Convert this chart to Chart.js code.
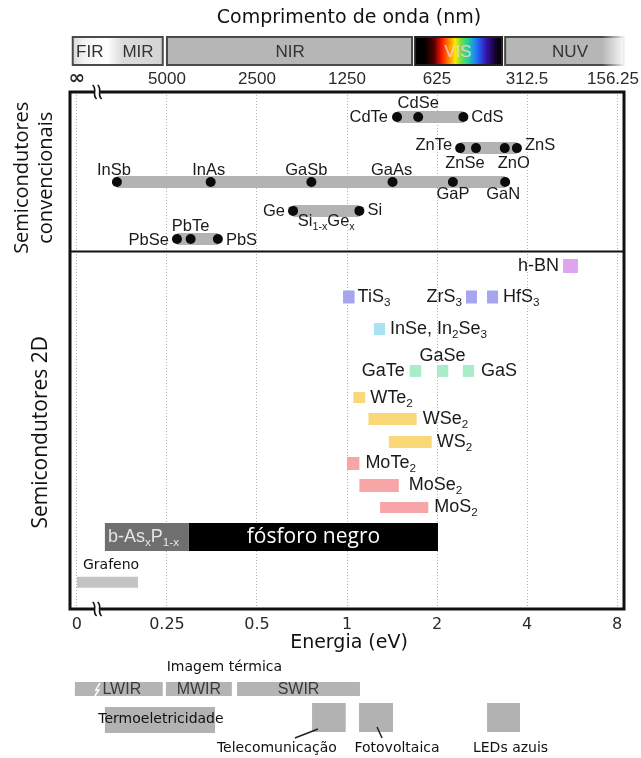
<!DOCTYPE html>
<html><head><meta charset="utf-8">
<script src="https://cdn.jsdelivr.net/npm/chart.js@4/dist/chart.umd.min.js"></script>
<style>html,body{margin:0;padding:0;background:#fff}#wrap{width:641px;height:758px}</style>
</head><body><div id="wrap"><canvas id="c" width="641" height="758"></canvas></div>
<script>
// ---------------- DATA ----------------
// Energy axis (log2-like spacing; "0" sits at the axis break position)
const energyTicks = [0.125, 0.25, 0.5, 1, 2, 4, 8];
const energyTickLabels = ['0', '0.25', '0.5', '1', '2', '4', '8'];
const wavelengthTickLabels = ['\u221E', '5000', '2500', '1250', '625', '312.5', '156.25'];
const ZERO_AT = 0.125;          // energy axis value where "0 eV" is drawn
const X_MIN = 1 / 8.44, X_MAX = 8.44;

// Conventional semiconductors (band gap, eV)
const convNames = ['CdTe','CdSe','CdS','ZnTe','ZnSe','ZnO','ZnS','InSb','InAs','GaSb','GaAs','GaP','GaN','Ge','Si','PbSe','PbTe','PbS'];
const convGaps  = [1.47, 1.73, 2.45, 2.39, 2.70, 3.37, 3.70, 0.17, 0.35, 0.76, 1.42, 2.26, 3.38, 0.66, 1.10, 0.27, 0.30, 0.37];
const convRow   = [0,0,0, 1,1,1,1, 2,2,2,2,2,2, 3,3, 4,4,4];
const convRowY  = [0.97, 2.17, 3.48, 4.60, 5.69];
const alloyLabel = 'Si_{1-x}Ge_x';   // label of the Ge–Si row bar
const dividerY = 6.17;

// 2D semiconductors (band gap ranges, eV)
const tdNames = ['h-BN','TiS_3','ZrS_3','HfS_3','InSe, In_2Se_3','GaTe','GaSe','GaS','WTe_2','WSe_2','WS_2','MoTe_2','MoSe_2','MoS_2','b-As_xP_{1-x}','fósforo negro','Grafeno'];
const tdMin = [5.28, 0.97, 2.50, 2.94, 1.23, 1.62, 2.00, 2.44, 1.05, 1.18, 1.38, 1.00, 1.10, 1.29, 0.155, 0.296, 0];
const tdMax = [5.92, 1.06, 2.72, 3.20, 1.34, 1.77, 2.18, 2.66, 1.15, 1.71, 1.92, 1.10, 1.49, 1.87, 0.296, 2.015, 0.20];
const tdRowY = [6.73, 7.93, 7.93, 7.93, 9.17, 10.79, 10.79, 10.79, 11.82, 12.65, 13.54, 14.37, 15.22, 16.07, 17.21, 17.21, 18.97];

// Spectral regions (top band, eV)
const bandFrom = [0.121, 0.250, 1.69, 3.38];
const bandTo   = [0.242, 1.650, 3.30, 8.44];
const bandLabels = ['FIR', 'MIR', 'NIR', 'VIS', 'NUV'];
const bandLabelE = [0.138, 0.200, 0.645, 2.35, 5.57];

// Applications (bottom, eV)
const thermalNames = ['LWIR', 'MWIR', 'SWIR'];
const thermalFrom  = [0.123, 0.248, 0.429];
const thermalTo    = [0.242, 0.412, 1.105];
const appNames = ['Termoeletricidade', 'Telecomunicação', 'Fotovoltaica', 'LEDs azuis'];
const appFrom  = [0.155, 0.764, 1.097, 2.94];
const appTo    = [0.362, 0.990, 1.425, 3.79];

// ---------------- STYLE ----------------
const LABEL_FONT = 'Liberation Sans';
const convPlace = { CdTe:['left',-1,0], CdSe:['above',0,-14], CdS:['right',0,0], ZnTe:['left',0,-3], ZnSe:['below',-11,15],
  ZnO:['below',9,15], ZnS:['right',0,-3], InSb:['above',-3,-12], InAs:['above',-2,-12], GaSb:['above',-5,-12], GaAs:['above',-1,-12],
  GaP:['below',0,12], GaN:['below',-2,12], Ge:['left',0,1], Si:['right',0,0], PbSe:['left',0,1], PbTe:['above',0,-13], PbS:['right',0,1] };
const tdStyle = [
  {c:'#dea4ef', h:14, side:'left', gap:4},
  {c:'#a5a5f0', h:13, side:'right', gap:3},
  {c:'#a5a5f0', h:13, side:'left', gap:4},
  {c:'#a5a5f0', h:13, side:'right', gap:5},
  {c:'#a9e3f3', h:12, side:'right', gap:5},
  {c:'#a8ecc8', h:12, side:'left', gap:5},
  {c:'#a8ecc8', h:12, side:'above', gap:15},
  {c:'#a8ecc8', h:12, side:'right', gap:7},
  {c:'#fad878', h:11, side:'right', gap:5},
  {c:'#fad878', h:12, side:'right', gap:6},
  {c:'#fad878', h:12, side:'right', gap:5},
  {c:'#f8a5a8', h:13, side:'right', gap:6},
  {c:'#f8a5a8', h:13, side:'right', gap:10},
  {c:'#f8a5a8', h:11, side:'right', gap:6},
  {c:'#6f6f6f', h:28, side:'insideLeft', gap:3, tc:'#e6e6e6'},
  {c:'#000000', h:28, side:'center', gap:0, tc:'#ffffff'},
  {c:'#c4c4c4', h:11, side:'aboveLeft', gap:17}
];

const toAxis = e => (e <= 0 ? ZERO_AT : e);

// ---------------- DATASETS ----------------
function seg(a, b, y, w, c) {
  return { data: [{x: a, y: y}, {x: b, y: y}], showLine: true, borderColor: c, borderWidth: w,
           borderCapStyle: 'butt', pointRadius: 0, pointHoverRadius: 0, fill: false, tension: 0 };
}
const datasets = [];
datasets.push({ data: convNames.map((n, i) => ({x: convGaps[i], y: convRowY[convRow[i]]})), showLine: false,
  pointRadius: 5, pointHoverRadius: 5, pointBackgroundColor: '#0b0b0b', pointBorderWidth: 0 });
convRowY.forEach((y, r) => {
  const g = convGaps.filter((v, i) => convRow[i] === r);
  datasets.push(seg(Math.min(...g), Math.max(...g), y, 12, '#b3b3b3'));
});
tdNames.forEach((n, i) => datasets.push(seg(toAxis(tdMin[i]), tdMax[i], tdRowY[i], tdStyle[i].h, tdStyle[i].c)));
datasets.push(seg(X_MIN, X_MAX, dividerY, 2, '#111'));

// ---------------- RICH TEXT ----------------
function parseRich(s) {
  const out = []; const re = /_\{([^}]*)\}|_(.)/g; let last = 0, m;
  while ((m = re.exec(s))) {
    if (m.index > last) out.push({t: s.slice(last, m.index), sub: false});
    out.push({t: m[1] !== undefined ? m[1] : m[2], sub: true});
    last = re.lastIndex;
  }
  if (last < s.length) out.push({t: s.slice(last), sub: false});
  return out;
}
function drawRich(ctx, s, x, y, align, size, family, color, weight) {
  const segs = parseRich(s);
  const f = sz => (weight ? weight + ' ' : '') + sz + 'px "' + family + '"';
  let w = 0;
  segs.forEach(sg => { ctx.font = f(sg.sub ? size * 0.65 : size); sg.w = ctx.measureText(sg.t).width; w += sg.w; });
  let cx = align === 'left' ? x : align === 'right' ? x - w : x - w / 2;
  ctx.fillStyle = color; ctx.textAlign = 'left'; ctx.textBaseline = 'middle';
  segs.forEach(sg => {
    ctx.font = f(sg.sub ? size * 0.65 : size);
    ctx.fillText(sg.t, cx, sg.sub ? y + size * 0.32 : y);
    cx += sg.w;
  });
  return w;
}

// ---------------- PLUGINS ----------------
const labelPlugin = {
  id: 'labels',
  afterDatasetsDraw(chart) {
    const ctx = chart.ctx, xs = chart.scales.x, ys = chart.scales.y;
    ctx.save();
    convNames.forEach((n, i) => {
      const px = xs.getPixelForValue(convGaps[i]), py = ys.getPixelForValue(convRowY[convRow[i]]);
      const [side, dx, dy] = convPlace[n];
      if (side === 'left') drawRich(ctx, n, px - 8 + dx, py + dy, 'right', 16.5, LABEL_FONT, '#1a1a1a');
      else if (side === 'right') drawRich(ctx, n, px + 8 + dx, py + dy, 'left', 16.5, LABEL_FONT, '#1a1a1a');
      else drawRich(ctx, n, px + dx, py + dy, 'center', 16.5, LABEL_FONT, '#1a1a1a');
    });
    const gi = convNames.indexOf('Ge'), si = convNames.indexOf('Si');
    const ax = (xs.getPixelForValue(convGaps[gi]) + xs.getPixelForValue(convGaps[si])) / 2;
    drawRich(ctx, alloyLabel, ax, ys.getPixelForValue(convRowY[3]) + 11, 'center', 16.5, LABEL_FONT, '#1a1a1a');

    tdNames.forEach((n, i) => {
      const st = tdStyle[i];
      const x0 = xs.getPixelForValue(toAxis(tdMin[i])), x1 = xs.getPixelForValue(tdMax[i]);
      const py = ys.getPixelForValue(tdRowY[i]);
      const col = st.tc || '#1a1a1a';
      if (st.side === 'left') drawRich(ctx, n, x0 - st.gap, py, 'right', 18, LABEL_FONT, col);
      else if (st.side === 'right') drawRich(ctx, n, x1 + st.gap, py, 'left', 18, LABEL_FONT, col);
      else if (st.side === 'above') drawRich(ctx, n, (x0 + x1) / 2, py - st.gap, 'center', 18, LABEL_FONT, col);
      else if (st.side === 'insideLeft') drawRich(ctx, n, x0 + st.gap, py, 'left', 18, LABEL_FONT, col);
      else if (st.side === 'center') drawRich(ctx, n, (x0 + x1) / 2, py, 'center', 21, 'Open Sans', col);
      else if (st.side === 'aboveLeft') drawRich(ctx, n, x0 + 6, py - st.gap, 'left', 14, 'DejaVu Sans', '#111');
    });
    ctx.restore();
  }
};

function drawBreak(ctx, x, y) {
  ctx.save();
  ctx.fillStyle = '#fff';
  ctx.fillRect(x - 3, y - 3, 6, 6);
  ctx.strokeStyle = '#111'; ctx.lineWidth = 1.6;
  [-2.5, 2.5].forEach(o => {
    ctx.beginPath();
    ctx.moveTo(x + o - 2, y - 7);
    ctx.bezierCurveTo(x + o + 3, y - 3, x + o - 3, y + 3, x + o + 2, y + 7);
    ctx.stroke();
  });
  ctx.restore();
}

const framePlugin = {
  id: 'frame',
  afterDraw(chart) {
    const ctx = chart.ctx, a = chart.chartArea, xs = chart.scales.x;
    const X = v => xs.getPixelForValue(v);
    ctx.save();
    // plot border
    ctx.strokeStyle = '#111'; ctx.lineWidth = 3;
    ctx.strokeRect(a.left, a.top, a.right - a.left, a.bottom - a.top);
    const bx = X(0.146);
    drawBreak(ctx, bx, a.top);
    drawBreak(ctx, bx, a.bottom);

    // tick labels of the energy axis (bottom) and wavelength axis (top)
    ctx.textAlign = 'center'; ctx.textBaseline = 'middle';
    xs.ticks.forEach(t => {
      const i = energyTicks.indexOf(t.value);
      if (i < 0) return;
      const px = X(t.value);
      ctx.fillStyle = '#2a2a2a';
      ctx.font = '16px "DejaVu Sans"';
      ctx.fillText(energyTickLabels[i], px, a.bottom + 16);
      const wl = wavelengthTickLabels[i];
      ctx.font = i === 0 ? 'bold 20px "DejaVu Sans"' : '17px "' + LABEL_FONT + '"';
      const w = ctx.measureText(wl).width;
      ctx.fillText(wl, Math.min(px, 639 - w / 2), a.top - 13);
    });

    // titles
    ctx.fillStyle = '#111'; ctx.textAlign = 'center'; ctx.textBaseline = 'middle';
    ctx.font = '19px "DejaVu Sans"';
    const cx = (a.left + a.right) / 2 + 2;
    ctx.fillText('Comprimento de onda (nm)', cx, 18);
    ctx.fillText('Energia (eV)', cx, 643);

    // left section titles
    const yS = chart.scales.y;
    const convMid = (yS.getPixelForValue(0) + yS.getPixelForValue(dividerY)) / 2 + 6;
    const tdMid = (yS.getPixelForValue(dividerY) + yS.getPixelForValue(20)) / 2 + 2;
    ctx.font = '20px "Open Sans"';
    ctx.save(); ctx.translate(22, convMid); ctx.rotate(-Math.PI / 2);
    ctx.fillText('Semicondutores', 0, 0); ctx.restore();
    ctx.save(); ctx.translate(46, convMid); ctx.rotate(-Math.PI / 2);
    ctx.fillText('convencionais', 0, 0); ctx.restore();
    ctx.font = '21px "Open Sans"';
    ctx.save(); ctx.translate(41, tdMid); ctx.rotate(-Math.PI / 2);
    ctx.fillText('Semicondutores 2D', 0, 0); ctx.restore();

    // spectral bands
    const bt = 37, bh = 28;
    bandFrom.forEach((f, i) => {
      const x0 = X(f), x1 = Math.min(X(bandTo[i]), a.right), w = x1 - x0;
      let fill;
      if (i === 0) {
        fill = ctx.createLinearGradient(x0, 0, x1, 0);
        fill.addColorStop(0, '#d8d8d8'); fill.addColorStop(0.12, '#f2f2f2'); fill.addColorStop(0.38, '#ffffff');
        fill.addColorStop(0.55, '#dcdcdc'); fill.addColorStop(1, '#d4d4d4');
      } else if (i === 2) {
        fill = ctx.createLinearGradient(x0, 0, x1, 0);
        [[0,'#000'],[0.11,'#000'],[0.22,'#5a0000'],[0.31,'#ff1a00'],[0.39,'#ff8a00'],[0.46,'#ffe800'],
         [0.53,'#6ee040'],[0.61,'#20d0a0'],[0.71,'#2070ff'],[0.82,'#3512a8'],[0.93,'#120024'],[1,'#000']]
          .forEach(s => fill.addColorStop(s[0], s[1]));
      } else fill = '#b6b6b6';
      ctx.fillStyle = fill; ctx.fillRect(x0, bt, w, bh);
      ctx.strokeStyle = i === 2 ? '#222' : '#4a4a4a'; ctx.lineWidth = 2;
      ctx.strokeRect(x0, bt, w, bh);
      if (i === 3) {
        const g = ctx.createLinearGradient(x1 - 22, 0, x1 + 2, 0);
        g.addColorStop(0, 'rgba(255,255,255,0)'); g.addColorStop(1, 'rgba(255,255,255,1)');
        ctx.fillStyle = g; ctx.fillRect(x1 - 22, bt - 2, 25, bh + 4);
      }
    });
    ctx.font = '17px "' + LABEL_FONT + '"'; ctx.textAlign = 'center'; ctx.textBaseline = 'middle';
    bandLabels.forEach((t, i) => {
      ctx.fillStyle = t === 'VIS' ? 'rgba(255,205,225,0.85)' : '#333';
      ctx.fillText(t, X(bandLabelE[i]), bt + bh / 2 + 1);
    });

    // thermal imaging bars
    ctx.fillStyle = '#111'; ctx.font = '14px "DejaVu Sans"';
    ctx.fillText('Imagem térmica', (X(thermalFrom[0]) + X(thermalTo[2])) / 2 + 7, 667);
    thermalNames.forEach((n, i) => {
      const x0 = X(thermalFrom[i]), x1 = X(thermalTo[i]);
      ctx.fillStyle = '#b4b4b4'; ctx.fillRect(x0, 682, x1 - x0, 14);
      ctx.fillStyle = '#3a3a3a'; ctx.font = '16px "' + LABEL_FONT + '"';
      ctx.fillText(n, (x0 + x1) / 2 + (i === 0 ? 3 : 0), 690);
    });
    const lx = X(thermalFrom[0]) + 22;
    ctx.strokeStyle = '#fff'; ctx.lineWidth = 1.5; ctx.beginPath();
    ctx.moveTo(lx + 3, 683); ctx.lineTo(lx - 1, 690); ctx.lineTo(lx + 2, 690); ctx.lineTo(lx - 2, 696); ctx.stroke();

    // applications
    appNames.forEach((n, i) => {
      const x0 = X(appFrom[i]), x1 = X(appTo[i]);
      ctx.fillStyle = '#b2b2b2';
      if (i === 0) ctx.fillRect(x0, 707, x1 - x0, 26);
      else ctx.fillRect(x0, 703, x1 - x0, 29);
      ctx.fillStyle = '#111'; ctx.font = '14px "DejaVu Sans"'; ctx.textAlign = 'center';
      if (i === 0) ctx.fillText(n, (x0 + x1) / 2 + 1, 719);
      else {
        const off = [0, -52, 21, 7][i];
        const lxC = (x0 + x1) / 2 + off;
        ctx.fillText(n, lxC, 748);
        ctx.strokeStyle = '#222'; ctx.lineWidth = 1.5;
        if (i === 1) { ctx.beginPath(); ctx.moveTo(x0 + 6, 729); ctx.lineTo(lxC + 18, 738); ctx.stroke(); }
        if (i === 2) { ctx.beginPath(); ctx.moveTo(x0 + 18, 727); ctx.lineTo(x0 + 23, 738); ctx.stroke(); }
      }
    });
    ctx.restore();
  }
};

// ---------------- CHART ----------------
const setTicks = s => { s.ticks = energyTicks.map(v => ({value: v})); };
const flatten = s => { s.height = 0; s.paddingLeft = 0; s.paddingRight = 0; };
new Chart(document.getElementById('c'), {
  type: 'scatter',
  data: { datasets },
  plugins: [labelPlugin, framePlugin],
  options: {
    responsive: false, animation: false, devicePixelRatio: 1,
    layout: { padding: { left: 70, right: 17, top: 92, bottom: 149 } },
    plugins: { legend: { display: false }, tooltip: { enabled: false } },
    scales: {
      x: { type: 'logarithmic', position: 'bottom', min: X_MIN, max: X_MAX,
        afterBuildTicks: setTicks, afterFit: flatten,
        ticks: { display: false, autoSkip: false, maxRotation: 0 },
        grid: { color: '#b4b4b4', lineWidth: 1, drawTicks: false },
        border: { display: false, dash: [1, 2] } },
      y: { type: 'linear', reverse: true, min: 0, max: 20, display: false }
    }
  }
});
</script></body></html>
